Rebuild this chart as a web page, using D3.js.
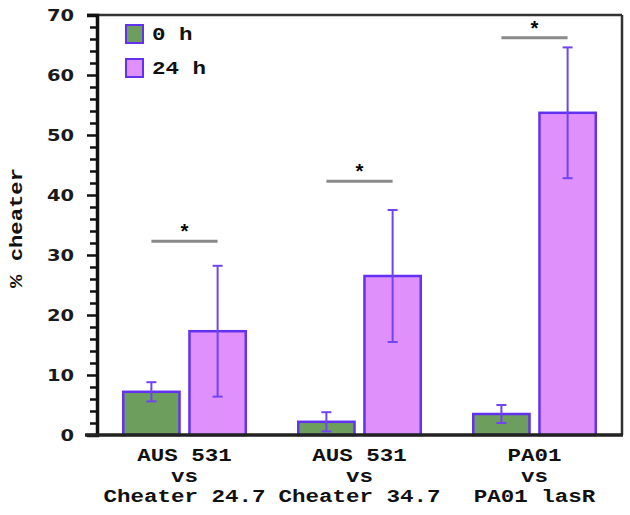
<!DOCTYPE html>
<html><head><meta charset="utf-8">
<script src="https://cdn.jsdelivr.net/npm/d3@7"></script>
<style>html,body{margin:0;padding:0;background:#fff;}</style>
</head><body>
<svg id="chart" width="630" height="515"></svg>
<script>
const categories = [
  ["AUS 531", "vs", "Cheater 24.7"],
  ["AUS 531", "vs", "Cheater 34.7"],
  ["PA01", "vs", "PA01 lasR"]
];
const seriesNames = ["0 h", "24 h"];
const values0h = [7.2, 2.2, 3.5];
const errors0h = [1.6, 1.6, 1.5];
const values24h = [17.3, 26.5, 53.7];
const errors24h = [10.9, 11.0, 10.9];
const sigLevels = [32.3, 42.3, 66.2];
const sigLabels = ["*", "*", "*"];
const yTicksMajor = [0, 10, 20, 30, 40, 50, 60, 70];
const yLabel = "% cheater";

const colors = {"0 h": "#6e9e5e", "24 h": "#df90fb"};
const edge = "#6232f0";
const errColor = "#7044f2";

const svg = d3.select("#chart");
const L = 97, R = 622, T = 15, B = 435;

const x = d3.scaleBand().domain(d3.range(categories.length)).range([L, R]).paddingInner(0.3).paddingOuter(0.15);
const xi = d3.scaleBand().domain(seriesNames).range([0, x.bandwidth()]).paddingInner(0.15);
const y = d3.scaleLinear().domain([0, 70]).range([B, T]);

const rows = [];
categories.forEach((c, i) => {
  rows.push({i, s: "0 h", v: values0h[i], e: errors0h[i]});
  rows.push({i, s: "24 h", v: values24h[i], e: errors24h[i]});
});

// bars
svg.append("g").selectAll("rect").data(rows).join("rect")
  .attr("x", d => x(d.i) + xi(d.s))
  .attr("y", d => y(d.v))
  .attr("width", xi.bandwidth())
  .attr("height", d => y(0) - y(d.v))
  .attr("fill", d => colors[d.s])
  .attr("stroke", edge).attr("stroke-width", 2.5);

// error bars
const eg = svg.append("g").attr("stroke", errColor).attr("stroke-width", 2);
rows.forEach(d => {
  const cx = x(d.i) + xi(d.s) + xi.bandwidth() / 2;
  eg.append("line").attr("x1", cx).attr("x2", cx).attr("y1", y(d.v + d.e)).attr("y2", y(d.v - d.e));
  [d.v + d.e, d.v - d.e].forEach(t => {
    eg.append("line").attr("x1", cx - 5).attr("x2", cx + 5).attr("y1", y(t)).attr("y2", y(t));
  });
});

// significance lines
categories.forEach((c, i) => {
  const cx = x(i) + x.bandwidth() / 2;
  const hw = x.bandwidth() * 0.27;
  svg.append("line").attr("x1", cx - hw).attr("x2", cx + hw)
    .attr("y1", y(sigLevels[i])).attr("y2", y(sigLevels[i]))
    .attr("stroke", "#8a8a8a").attr("stroke-width", 3);
  svg.append("text").attr("x", cx).attr("y", y(sigLevels[i]) - 2)
    .attr("text-anchor", "middle").attr("font-family", "Liberation Mono")
    .attr("font-weight", "bold").attr("font-size", 20).text(sigLabels[i]);
});

// frame: top and right
svg.append("line").attr("x1", L - 10).attr("x2", R).attr("y1", T).attr("y2", T).attr("stroke", "#333").attr("stroke-width", 2.5);
svg.append("line").attr("x1", R).attr("x2", R).attr("y1", T).attr("y2", B).attr("stroke", "#333").attr("stroke-width", 2.5);

// y axis
const yMinor = d3.range(0, 71, 2).filter(v => v % 10 !== 0);
const yAxisMinor = d3.axisLeft(y).tickValues(yMinor).tickSize(7).tickFormat("");
const gMinor = svg.append("g").attr("transform", `translate(${L},0)`).call(yAxisMinor);
gMinor.select(".domain").remove();
gMinor.selectAll("line").attr("stroke", "#111").attr("stroke-width", 2.5);

const yAxis = d3.axisLeft(y).tickValues(yTicksMajor).tickSize(10).tickPadding(0).tickFormat(d3.format("d"));
const gy = svg.append("g").attr("transform", `translate(${L},0)`).call(yAxis);
gy.select(".domain").attr("stroke", "#111").attr("stroke-width", 3.5);
gy.selectAll("line").attr("stroke", "#111").attr("stroke-width", 2.5);
gy.selectAll("text").each(function() {
  const t = d3.select(this);
  t.attr("font-family", "DejaVu Sans").attr("font-weight", "bold").attr("font-size", 15)
   .attr("fill", "#1a1a1a").attr("x", 0).attr("dy", "0.36em").attr("text-anchor", "end")
   .attr("transform", "translate(-23,0) scale(1.3,1)");
});

// x axis line
svg.append("line").attr("x1", L - 12).attr("x2", R + 1).attr("y1", B).attr("y2", B).attr("stroke", "#222").attr("stroke-width", 3.5);

// x labels
const baselines = [461, 481.5, 502];
categories.forEach((lines, i) => {
  const cx = x(i) + x.bandwidth() / 2;
  lines.forEach((ln, j) => {
    svg.append("text").attr("transform", `translate(${cx},${baselines[j]}) scale(1.25,1)`)
      .attr("text-anchor", "middle").attr("font-family", "Liberation Mono")
      .attr("font-weight", "bold").attr("font-size", 18).attr("fill", "#111").text(ln);
  });
});

// y label
svg.append("text").attr("transform", "translate(22,228) rotate(-90) scale(1.27,1)")
  .attr("text-anchor", "middle").attr("font-family", "Liberation Mono")
  .attr("font-weight", "bold").attr("font-size", 17.5).attr("fill", "#111").text(yLabel);

// legend
const lg = svg.append("g");
seriesNames.forEach((s, k) => {
  const yy = 25 + k * 34;
  lg.append("rect").attr("x", 126).attr("y", yy).attr("width", 17).attr("height", 18)
    .attr("fill", colors[s]).attr("stroke", edge).attr("stroke-width", 2);
  lg.append("text").attr("transform", `translate(152,${yy + 15}) scale(1.25,1)`)
    .attr("font-family", "Liberation Mono").attr("font-weight", "bold").attr("font-size", 18)
    .attr("fill", "#111").text(s);
});
</script>
</body></html>
